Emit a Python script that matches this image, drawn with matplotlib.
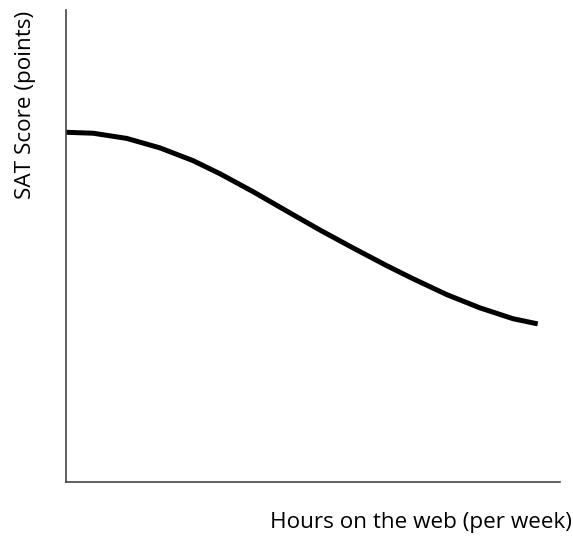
import matplotlib.pyplot as plt

# values (arbitrary units, no ticks shown)
hours = [0.0, 0.55, 1.23, 1.90, 2.57, 3.12, 3.79, 4.47, 5.14, 5.81,
         6.50, 7.02, 7.71, 8.38, 9.05, 9.55]
sat_score = [7.41, 7.39, 7.28, 7.08, 6.81, 6.53, 6.15, 5.74, 5.34, 4.96,
             4.58, 4.31, 3.97, 3.69, 3.46, 3.35]

plt.rcParams['font.family'] = ['Open Sans', 'DejaVu Sans']

fig = plt.figure(figsize=(5.73, 5.40), dpi=100)
ax = fig.add_axes([0.1152, 0.1074, 0.862, 0.874])

ax.plot(hours, sat_score, color='black', linewidth=3.6,
        solid_capstyle='butt', solid_joinstyle='round')

ax.set_xlim(0, 10)
ax.set_ylim(0, 10)
ax.set_xticks([])
ax.set_yticks([])
for side in ['top', 'right']:
    ax.spines[side].set_visible(False)
for side in ['left', 'bottom']:
    ax.spines[side].set_color('#444444')
    ax.spines[side].set_linewidth(1.2)

fig.text(0.998, 0.033, 'Hours on the web (per week)', ha='right', va='center',
         fontsize=16.2)
fig.text(0.045, 0.805, 'SAT Score (points)', ha='center', va='center',
         rotation=90, fontsize=16.2)

fig.savefig('out.png', dpi=100)
